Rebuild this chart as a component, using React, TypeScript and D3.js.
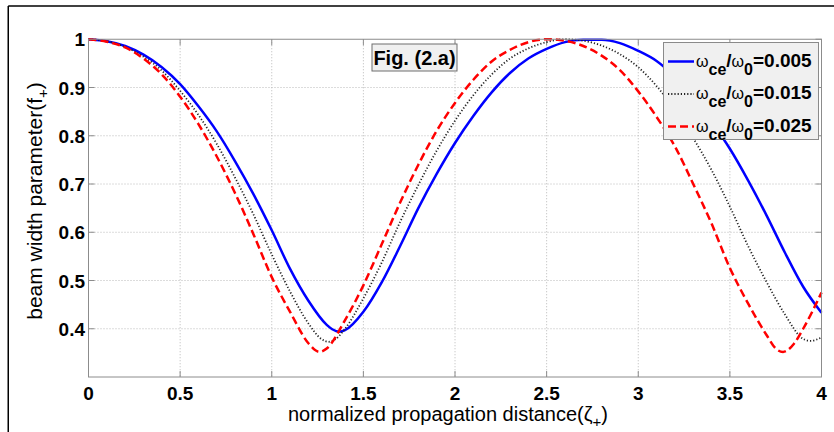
import React from "react";
import * as d3 from "d3";

// ---- data ----
const blueZeta = [0, 0.1, 0.2, 0.3, 0.4, 0.5, 0.6, 0.7, 0.8, 0.9, 1.0, 1.1, 1.2, 1.3, 1.33, 1.37, 1.4, 1.5, 1.6, 1.7, 1.8, 1.9, 2.0, 2.1, 2.2, 2.3, 2.4, 2.5, 2.6, 2.7, 2.8, 2.9, 3.0, 3.1, 3.2, 3.3, 3.4, 3.5, 3.6, 3.7, 3.8, 3.9, 4.0];
const blueF = [1.0, 0.996, 0.986, 0.968, 0.942, 0.907, 0.861, 0.809, 0.747, 0.679, 0.604, 0.524, 0.458, 0.408, 0.399, 0.394, 0.397, 0.435, 0.496, 0.571, 0.65, 0.721, 0.785, 0.841, 0.89, 0.93, 0.96, 0.98, 0.994, 0.999, 0.999, 0.992, 0.976, 0.955, 0.922, 0.88, 0.829, 0.773, 0.707, 0.635, 0.558, 0.487, 0.433];

const blackZeta = [0, 0.1, 0.2, 0.3, 0.4, 0.5, 0.6, 0.7, 0.8, 0.9, 1.0, 1.1, 1.2, 1.27, 1.31, 1.35, 1.4, 1.5, 1.6, 1.7, 1.8, 1.9, 2.0, 2.1, 2.2, 2.3, 2.4, 2.5, 2.6, 2.7, 2.8, 2.9, 3.0, 3.1, 3.2, 3.3, 3.4, 3.5, 3.6, 3.7, 3.8, 3.9, 3.94, 4.0];
const blackF = [1.0, 0.996, 0.984, 0.964, 0.935, 0.893, 0.843, 0.783, 0.713, 0.637, 0.554, 0.477, 0.411, 0.379, 0.373, 0.379, 0.4, 0.463, 0.537, 0.621, 0.698, 0.769, 0.831, 0.884, 0.927, 0.96, 0.981, 0.994, 1.0, 0.997, 0.987, 0.969, 0.942, 0.903, 0.853, 0.795, 0.729, 0.653, 0.571, 0.497, 0.43, 0.379, 0.375, 0.382];

const redZeta = [0, 0.1, 0.2, 0.3, 0.4, 0.5, 0.6, 0.7, 0.8, 0.9, 1.0, 1.1, 1.2, 1.26, 1.3, 1.4, 1.5, 1.6, 1.7, 1.8, 1.9, 2.0, 2.1, 2.2, 2.3, 2.4, 2.5, 2.6, 2.7, 2.8, 2.9, 3.0, 3.1, 3.2, 3.3, 3.4, 3.5, 3.6, 3.7, 3.75, 3.79, 3.85, 3.9, 4.0];
const redF = [1.0, 0.995, 0.983, 0.96, 0.927, 0.881, 0.824, 0.757, 0.681, 0.596, 0.507, 0.435, 0.37, 0.352, 0.359, 0.418, 0.49, 0.575, 0.661, 0.74, 0.81, 0.868, 0.916, 0.954, 0.978, 0.994, 1.0, 0.997, 0.986, 0.966, 0.936, 0.892, 0.839, 0.778, 0.7, 0.618, 0.526, 0.452, 0.387, 0.359, 0.352, 0.369, 0.4, 0.475];

const xTicks = [0, 0.5, 1, 1.5, 2, 2.5, 3, 3.5, 4];
const xTickLabels = ["0", "0.5", "1", "1.5", "2", "2.5", "3", "3.5", "4"];
const yTicks = [0.4, 0.5, 0.6, 0.7, 0.8, 0.9, 1];
const yTickLabels = ["0.4", "0.5", "0.6", "0.7", "0.8", "0.9", "1"];
const legendRatios = ["0.005", "0.015", "0.025"];
const titleText = "Fig. (2.a)";

const FONT = "'Liberation Sans', Arial, Helvetica, sans-serif";

export default function App() {
  const W = 834, H = 432;
  const L = 88.5, R = 821.5, T = 39.25, B = 377;
  const x = d3.scaleLinear().domain([0, 4]).range([L, R]);
  const y = d3.scaleLinear().domain([0.3, 1]).range([B, T]);

  const line = d3.line<[number, number]>()
    .x((d) => x(d[0]))
    .y((d) => y(d[1]))
    .curve(d3.curveMonotoneX);

  const series = [
    { z: blueZeta, f: blueF, color: "#0000ff", width: 2.5, dash: "none" },
    { z: blackZeta, f: blackF, color: "#222222", width: 1.8, dash: "1.2 2" },
    { z: redZeta, f: redF, color: "#ff0000", width: 2.5, dash: "8 4" },
  ];

  const axisColor = "#8c8c8c";
  const gridColor = "#b8b8b8";
  const tickLen = 6;

  const legX = 663.5, legY = 42.5, legW = 155, legH = 97;

  return (
    <div style={{ position: "fixed", left: 0, top: 0, width: W, height: H, background: "#fff" }}>
      <svg width={W} height={H} style={{ display: "block" }} fontFamily={FONT}>
        <rect x={0} y={0} width={W} height={H} fill="#fff" />
        {/* outer frame */}
        <line x1={8.25} y1={6} x2={8.25} y2={H} stroke="#000" strokeWidth={1.5} />
        <line x1={8.25} y1={6} x2={W} y2={6} stroke="#000" strokeWidth={1.5} />

        {/* grid */}
        {xTicks.map((t, i) => (
          i > 0 && i < xTicks.length - 1 ? (
            <line key={"gx" + i} x1={x(t)} x2={x(t)} y1={T} y2={B} stroke={gridColor} strokeDasharray="1 2" strokeWidth={1} />
          ) : null
        ))}
        {yTicks.map((t, i) => (
          t < 1 ? (
            <line key={"gy" + i} x1={L} x2={R} y1={y(t)} y2={y(t)} stroke={gridColor} strokeDasharray="1 2" strokeWidth={1} />
          ) : null
        ))}

        {/* ticks */}
        {xTicks.map((t, i) => (
          <g key={"tx" + i}>
            <line x1={x(t)} x2={x(t)} y1={B} y2={B - tickLen} stroke={axisColor} />
            <line x1={x(t)} x2={x(t)} y1={T} y2={T + tickLen} stroke={axisColor} />
          </g>
        ))}
        {yTicks.map((t, i) => (
          <g key={"ty" + i}>
            <line x1={L} x2={L + tickLen} y1={y(t)} y2={y(t)} stroke={axisColor} />
            <line x1={R} x2={R - tickLen} y1={y(t)} y2={y(t)} stroke={axisColor} />
          </g>
        ))}

        {/* curves */}
        {series.map((s, i) => (
          <path
            key={"s" + i}
            d={line(s.z.map((z, j) => [z, s.f[j]] as [number, number])) || ""}
            fill="none"
            stroke={s.color}
            strokeWidth={s.width}
            strokeDasharray={s.dash}
          />
        ))}

        {/* axes box */}
        <rect x={L} y={T} width={R - L} height={B - T} fill="none" stroke={axisColor} strokeWidth={1} />

        {/* tick labels */}
        {xTicks.map((t, i) => (
          <text key={"lx" + i} x={x(t)} y={400} textAnchor="middle" fontSize={19} fontWeight="bold" fill="#000">
            {xTickLabels[i]}
          </text>
        ))}
        {yTicks.map((t, i) => (
          <text key={"ly" + i} x={85} y={y(t) + 7} textAnchor="end" fontSize={19} fontWeight="bold" fill="#000">
            {yTickLabels[i]}
          </text>
        ))}

        {/* axis labels */}
        <text x={448} y={421} textAnchor="middle" fontSize={20} fill="#000">
          normalized propagation distance(ζ
          <tspan dy={6} fontSize={15}>+</tspan>
          <tspan dy={-6}>)</tspan>
        </text>
        <text transform="translate(42,201) rotate(-90)" textAnchor="middle" fontSize={21} fill="#000">
          beam width parameter(f
          <tspan dy={6} fontSize={15}>+</tspan>
          <tspan dy={-6}>)</tspan>
        </text>

        {/* title box */}
        <rect x={372} y={44} width={85} height={27} fill="#f0f0f0" stroke="#6e6e6e" strokeWidth={1} />
        <text x={414.5} y={64.5} textAnchor="middle" fontSize={20} fontWeight="bold" fill="#000">
          {titleText}
        </text>

        {/* legend */}
        <rect x={legX} y={legY} width={legW} height={legH} fill="#f0f0f0" stroke="#8a8a8a" strokeWidth={1} />
        {series.map((s, i) => {
          const cy = 61.5 + i * 32.5;
          return (
            <g key={"leg" + i}>
              <line x1={668} x2={694} y1={cy} y2={cy} stroke={s.color} strokeWidth={s.width} strokeDasharray={s.dash} />
              <text x={696} y={cy + 5} fontSize={19} fontWeight="bold" fill="#000">
                <tspan fontWeight="normal" fontSize={16}>ω</tspan>
                <tspan dy={8} fontSize={16}>ce</tspan>
                <tspan dy={-8}>/</tspan>
                <tspan fontWeight="normal" fontSize={16}>ω</tspan>
                <tspan dy={8} fontSize={16}>0</tspan>
                <tspan dy={-8}>={legendRatios[i]}</tspan>
              </text>
            </g>
          );
        })}
      </svg>
    </div>
  );
}
